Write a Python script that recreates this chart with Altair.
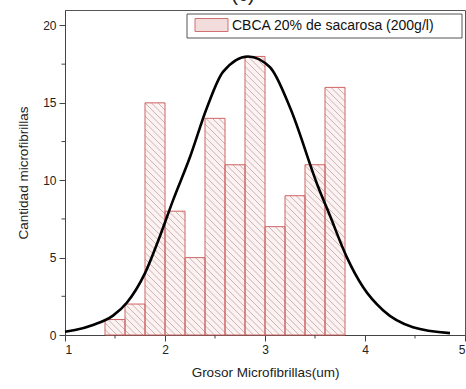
import altair as alt
import pandas as pd

# ---- data ----
bin_left = [1.4, 1.6, 1.8, 2.0, 2.2, 2.4, 2.6, 2.8, 3.0, 3.2, 3.4, 3.6]
bin_width = 0.2
counts = [1, 2, 15, 8, 5, 14, 11, 18, 7, 9, 11, 16]

curve_x = [1.0, 1.1, 1.28, 1.48, 1.62, 1.8, 1.95, 2.08, 2.25, 2.42, 2.58, 2.83,
           3.05, 3.25, 3.53, 3.65, 3.82, 3.98, 4.18, 4.48, 4.85]
curve_y = [0.21, 0.32, 0.65, 1.25, 2.1, 4.0, 6.4, 8.7, 11.5, 14.7, 17.0, 18.0,
           17.3, 14.7, 9.6, 7.7, 5.0, 3.1, 1.6, 0.5, 0.12]

x_major = [1, 2, 3, 4, 5]
x_minor = [1.5, 2.5, 3.5, 4.5]
y_major = [0, 5, 10, 15, 20]
y_minor = [2.5, 7.5, 12.5, 17.5]

legend_label = "CBCA 20% de sacarosa (200g/l)"
x_title = "Grosor Microfibrillas(um)"
y_title = "Cantidad microfibrillas"

# ---- layout ----
W, H = 400, 325
X_DOM = [1, 5]
Y_DOM = [0, 21]
FONT = "Liberation Sans"
px_x = W / (X_DOM[1] - X_DOM[0])
px_y = H / (Y_DOM[1] - Y_DOM[0])

bars = pd.DataFrame({
    "x0": bin_left,
    "x1": [b + bin_width for b in bin_left],
    "count": counts,
})

# hatch lines (style) clipped inside each bar, computed from the bar data
hatch_rows = []
step = 6.5
for b, c in zip(bin_left, counts):
    X0 = (b - X_DOM[0]) * px_x
    X1 = (b + bin_width - X_DOM[0]) * px_x
    Hh = c * px_y
    k0 = int(X0 // step)
    k1 = int((X1 + Hh) // step) + 1
    for k in range(k0, k1 + 1):
        cc = k * step
        xa = max(X0, cc - Hh)
        xb = min(X1, cc)
        if xb - xa > 0.3:
            hatch_rows.append({
                "x": X_DOM[0] + xa / px_x, "y": (cc - xa) / px_y,
                "x2": X_DOM[0] + xb / px_x, "y2": (cc - xb) / px_y,
            })
hatch = pd.DataFrame(hatch_rows)

curve = pd.DataFrame({"x": curve_x, "y": curve_y})

xs = alt.Scale(domain=X_DOM, nice=False, zero=False)
ys = alt.Scale(domain=Y_DOM, nice=False, zero=False)

x_axis = alt.Axis(values=x_major, title=x_title, grid=False, tickSize=6,
                  labelPadding=3, titlePadding=10, format="d")
y_axis = alt.Axis(values=y_major, title=y_title, grid=False, tickSize=6,
                  labelPadding=3, titlePadding=12, format="d")

fill_layer = alt.Chart(bars).mark_rect(fill="#fdf2f2", stroke=None).encode(
    x=alt.X("x0:Q", scale=xs, axis=x_axis), x2="x1:Q",
    y=alt.Y("count:Q", scale=ys, axis=y_axis), y2=alt.datum(0),
)

hatch_layer = alt.Chart(hatch).mark_rule(color="#a88888", strokeWidth=0.6, clip=True).encode(
    x=alt.X("x:Q", scale=xs),
    y=alt.Y("y:Q", scale=ys),
    x2="x2:Q", y2="y2:Q",
)

bar_layer = alt.Chart(bars).mark_rect(fill=None, stroke="#cf6464", strokeWidth=1).encode(
    x=alt.X("x0:Q", scale=xs), x2="x1:Q",
    y=alt.Y("count:Q", scale=ys), y2=alt.datum(0),
)

curve_layer = alt.Chart(curve).mark_line(color="black", strokeWidth=2.6,
                                         interpolate="monotone").encode(
    x=alt.X("x:Q", scale=xs), y=alt.Y("y:Q", scale=ys),
)

xminor_layer = alt.Chart(pd.DataFrame({"v": x_minor})).mark_rule(
    color="#444", strokeWidth=1).encode(
    x=alt.X("v:Q", scale=xs), y=alt.value(H), y2=alt.value(H + 3.5),
)
yminor_layer = alt.Chart(pd.DataFrame({"v": y_minor})).mark_rule(
    color="#444", strokeWidth=1).encode(
    y=alt.Y("v:Q", scale=ys), x=alt.value(0), x2=alt.value(-3.5),
)

one = pd.DataFrame({"t": [legend_label]})
legend_box = alt.Chart(one).mark_rect(fill="white", stroke="#555", strokeWidth=1).encode(
    x=alt.value(122), x2=alt.value(397), y=alt.value(4), y2=alt.value(28),
)
legend_swatch = alt.Chart(one).mark_rect(
    fill="#f3dcdc", stroke="#d07070", strokeWidth=1).encode(
    x=alt.value(130), x2=alt.value(163), y=alt.value(8.5), y2=alt.value(21.5),
)
legend_text = alt.Chart(one).mark_text(align="left", baseline="middle", font=FONT,
                                       fontSize=14, color="#111").encode(
    x=alt.value(167), y=alt.value(15.5), text="t:N",
)
title_text = alt.Chart(pd.DataFrame({"t": ["(c)"]})).mark_text(
    align="center", baseline="alphabetic", font=FONT, fontSize=20, color="#222").encode(
    x=alt.value(178), y=alt.value(-9), text="t:N",
)

chart = alt.layer(
    fill_layer, hatch_layer, bar_layer, curve_layer, xminor_layer, yminor_layer,
    legend_box, legend_swatch, legend_text, title_text,
).properties(
    width=W, height=H,
    autosize=alt.AutoSizeParams(type="none"),
    padding={"left": 65, "top": 10, "right": 1, "bottom": 389 - 10 - H},
    background="white",
).configure_view(
    stroke="#555", strokeWidth=1,
).configure_axis(
    domainColor="#444", tickColor="#444", labelColor="#222", titleColor="#222",
    labelFont=FONT, titleFont=FONT, labelFontSize=12, titleFontSize=13.5,
    titleFontWeight="normal",
)

chart.save("out.html", embed_options={"renderer": "svg", "actions": False})
